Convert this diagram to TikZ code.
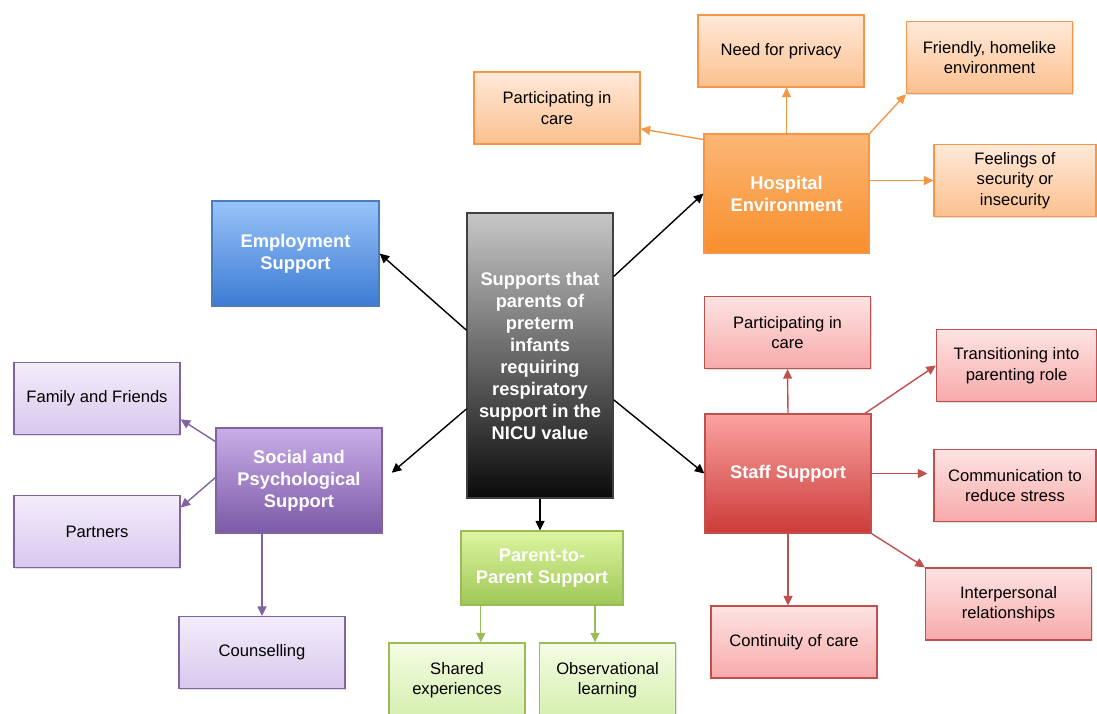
\documentclass[tikz,border=0pt]{standalone}
\usepackage{fontspec}
\setmainfont{Liberation Sans}
\usetikzlibrary{shadows,arrows.meta,calc}

\definecolor{orgline}{HTML}{F79646}
\definecolor{orgtop}{HTML}{FBB676}
\definecolor{orgbot}{HTML}{F88F2C}
\definecolor{orgltop}{HTML}{FFE9D9}
\definecolor{orglbot}{HTML}{FBC08F}
\definecolor{bluline}{HTML}{4A7EBB}
\definecolor{blutop}{HTML}{99C3F9}
\definecolor{blubot}{HTML}{3C7BD3}
\definecolor{purline}{HTML}{8064A2}
\definecolor{purtop}{HTML}{C9AEE8}
\definecolor{purbot}{HTML}{7B59A6}
\definecolor{purltop}{HTML}{F3EDFA}
\definecolor{purlbot}{HTML}{D8C8EE}
\definecolor{grnline}{HTML}{9BBB59}
\definecolor{grntop}{HTML}{DCF6A0}
\definecolor{grnbot}{HTML}{9FC656}
\definecolor{grnltop}{HTML}{F4FDE4}
\definecolor{grnlbot}{HTML}{D5EFB0}
\definecolor{redline}{HTML}{C0504D}
\definecolor{redtop}{HTML}{FBA3A1}
\definecolor{redbot}{HTML}{CB3B38}
\definecolor{redltop}{HTML}{FEE3E3}
\definecolor{redlbot}{HTML}{F7AAAA}

\begin{document}
\begin{tikzpicture}[x=1pt,y=-1pt,
    box/.style={rectangle,draw,line width=1.3pt,align=center,inner sep=2pt,
      drop shadow={opacity=.25,shadow xshift=1.2pt,shadow yshift=-1.2pt},
      font=\fontsize{16.6}{20.5}\selectfont},
    mainbox/.style={box,text=white,font=\bfseries\fontsize{18.3}{22}\selectfont},
    arr/.style={draw,line width=1.4pt,-{Triangle[length=9.5pt,width=9pt]}}]

      \useasboundingbox (0,0) rectangle (1097,713);

      \node[mainbox,draw=black!75,top color=black!22,bottom color=black!96,
        minimum width=146pt,minimum height=285pt] (ctr) at (540,355.5)
        {Supports that\\parents of\\preterm\\infants\\requiring\\respiratory\\support in the\\NICU value};

      \begin{scope}[every node/.style={minimum width=166pt,minimum height=72pt}]

        % hospital environment
        \node[mainbox,draw=orgline,top color=orgtop,bottom color=orgbot,
          minimum width=165pt,minimum height=119pt] (hosp) at (786.5,193.5) {Hospital\\Environment};
        \begin{scope}[every node/.append style={box,draw=orgline,top color=orgltop,bottom color=orglbot}]
          \node (hpriv) at (781,51)      {Need for privacy};
          \node (hhome) at (989.5,57.5)  {Friendly, homelike\\environment};
          \node (hpart) at (557,108)     {Participating in\\care};
          \node[minimum width=162pt] (hfeel) at (1015,180.5) {Feelings of\\security or\\insecurity};
        \end{scope}

        % employment
        \node[mainbox,draw=bluline,top color=blutop,bottom color=blubot,
          minimum width=167pt,minimum height=105pt] (emp) at (295.5,253.5) {Employment\\Support};

        % social and psychological
        \node[mainbox,draw=purline,top color=purtop,bottom color=purbot,
          minimum height=105pt] (soc) at (299,480.5) {Social and\\Psychological\\Support};
        \begin{scope}[every node/.append style={box,draw=purline,top color=purltop,bottom color=purlbot}]
          \node (sfam)   at (97,398.5) {Family and Friends};
          \node (spart)  at (97,531.5) {Partners};
          \node (scouns) at (262,652.5) {Counselling};
        \end{scope}

        % parent to parent
        \node[mainbox,draw=grnline,top color=grntop,bottom color=grnbot,
          minimum width=162pt,minimum height=74pt] (par) at (542,568) {Parent-to-\\Parent Support};
        \begin{scope}[every node/.append style={box,draw=grnline,top color=grnltop,bottom color=grnlbot,
            minimum width=136pt,minimum height=74pt}]
          \node (pshare) at (457,680)   {Shared\\experiences};
          \node (pobs)   at (607.5,680) {Observational\\learning};
        \end{scope}

        % staff support
        \node[mainbox,draw=redline,top color=redtop,bottom color=redbot,
          minimum height=119pt] (staff) at (788,473.5) {Staff Support};
        \begin{scope}[every node/.append style={box,draw=redline,top color=redltop,bottom color=redlbot}]
          \node (stpart)  at (787.5,332.5) {Participating in\\care};
          \node[minimum width=160pt] (sttrans) at (1016.5,365.5) {Transitioning into\\parenting role};
          \node[minimum width=162pt] (stcomm)  at (1015,485.5) {Communication to\\reduce stress};
          \node (stinter) at (1008.5,604) {Interpersonal\\relationships};
          \node (stcont)  at (794,642)    {Continuity of care};
        \end{scope}
      \end{scope}

      \begin{scope}[every edge/.style={arr}]
        \path (ctr.47)  edge (hosp.west);
        \path (ctr.161) edge (emp.east);
        \path (ctr.216) edge[shorten >=12pt] (soc.east);
        \path (ctr.-31) edge (staff.west);
        \path (ctr.south) edge (ctr.south |- par.north);
      \end{scope}

      \begin{scope}[every edge/.style={arr,draw=orgline}]
        \path (hosp.147) edge (hpart.-14);
        \path (hosp.north) edge (hosp.north |- hpriv.south);
        \path (hosp.north east) edge (hhome.south west);
        \path (hosp.east |- hfeel.west) edge (hfeel.west);
      \end{scope}

      \begin{scope}[every edge/.style={arr,draw=purline}]
        \path (soc.155) edge (sfam.-14);
        \path (soc.178) edge (spart.16);
        \path (scouns.north |- soc.south) edge (scouns.north);
      \end{scope}

      \begin{scope}[every edge/.style={arr,draw=grnline}]
        \path ($(par.south)!.75!(par.south west)$) edge (pshare.north -| {$(par.south)!.75!(par.south west)$});
        \path ($(par.south)!.65!(par.south east)$) edge (pobs.north -| {$(par.south)!.65!(par.south east)$});
      \end{scope}

      \begin{scope}[every edge/.style={arr,draw=redline}]
        \path (staff.north) edge (stpart.south);
        \path (staff.38) edge (sttrans.west);
        \path (staff.east) edge[shorten >=6pt] (staff.east -| stcomm.west);
        \path (staff.south east) edge (stinter.north west);
        \path (staff.south) edge (staff.south |- stcont.north);
      \end{scope}

    \end{tikzpicture}
\end{document}
